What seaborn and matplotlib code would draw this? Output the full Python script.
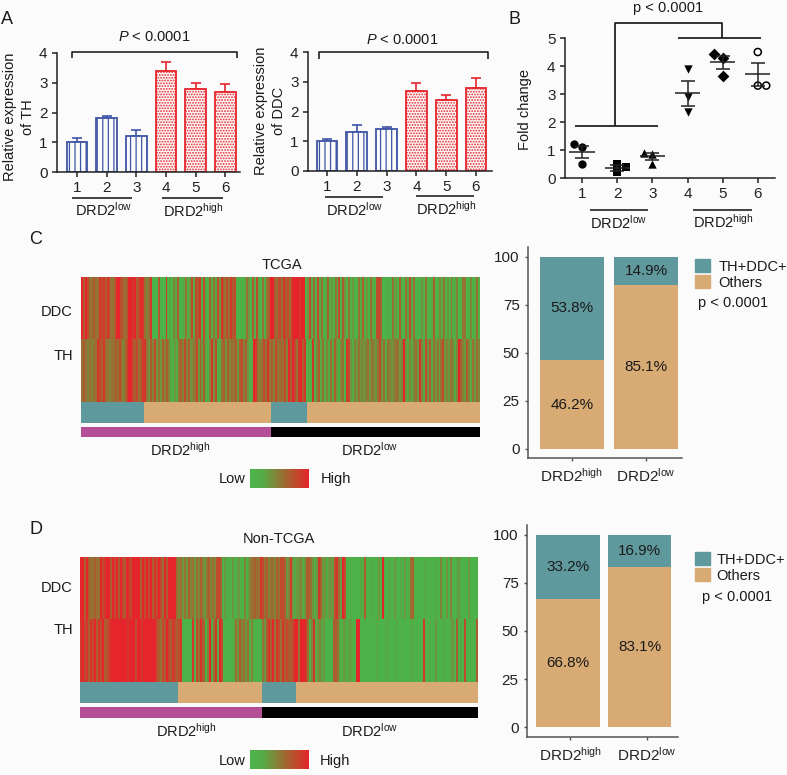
"""
DRD2 / TH / DDC expression figure, panels A to D.
"""

#Libraries
import numpy as np
import matplotlib
matplotlib.use('Agg')
import matplotlib.pyplot as plt
import seaborn as sns

from matplotlib.colors import LinearSegmentedColormap, ListedColormap
from matplotlib.lines import Line2D
from matplotlib.patches import Patch

#Data
samples = ['1', '2', '3', '4', '5', '6']
th_values = [1.0, 1.8, 1.2, 3.4, 2.8, 2.7]
th_errors = [0.13, 0.08, 0.2, 0.3, 0.2, 0.25]
ddc_values = [1.0, 1.3, 1.4, 2.7, 2.4, 2.8]
ddc_errors = [0.07, 0.25, 0.07, 0.25, 0.17, 0.33]

fold_values = [[1.2, 1.1, 0.5], [0.5, 0.38, 0.2], [0.9, 0.85, 0.5],
               [3.9, 2.9, 2.35], [4.43, 4.3, 3.65], [4.5, 3.3, 3.3]]
fold_jitter = [[-0.24, 0, 0], [0, 0.24, 0], [-0.24, 0, 0],
               [0, 0, 0], [-0.24, 0, 0], [0, 0, 0.24]]
fold_means = [0.93, 0.36, 0.77, 3.03, 4.13, 3.7]
fold_sems = [0.2, 0.12, 0.14, 0.45, 0.24, 0.4]
fold_markers = ['o', 's', '^', 'v', 'D', 'o']

groups = ['DRD2$^{high}$', 'DRD2$^{low}$']
tcga_positive = [53.8, 14.9]
tcga_others = [46.2, 85.1]
non_tcga_positive = [33.2, 16.9]
non_tcga_others = [66.8, 83.1]

#Heat map levels, 0 (low) to 9 (high), one character per column read left to right.
tcga_ddc = ('9697' '55655' '878687' '556' '997' '656' '9989' '67' '98' '545' '8' '001' '6' '101' '8' '120' '426'
            '10251372' '768' '172' '0615' '27386' '575867' '0010' '253' '0617' '2051' '56' '99' '657'
            '7586758' '999899' '1372' '51725' '02613051' '7163' '0513015' '26130521' '776' '0012051'
            '3061052' '7251' '0130510' '2601415' '0305124' '00' '55' '0140251')
tcga_th = ('5654' '5455' '8768' '55455' '657' '5457' '997' '6756' '88' '5364' '735' '364' '64' '2132' '564'
           '7463' '4573' '636' '214' '837' '125' '63645' '56367463' '12' '98' '545' '75' '856475'
           '56574' '9' '69' '75' '896' '8121' '81' '4625142' '5263' '1450' '87' '32435343' '4535435'
           '7352543' '45534' '9' '3242453' '8' '42736253' '52573' '435424' '96' '436425354')
non_tcga_ddc = ('99696' '55655' '97899' '697' '9697' '69879' '999' '697' '979687' '97596' '9999'
                '54535364535464356454' '776' '13021302310413' '55655' '87' '56455465'
                '776' '34' '8' '3233423' '665' '323' '8' '6' '332333' '78' '53' '9' '7' '101010121' '6'
                '10120131' '9' '1021031021302' '56' '01010210102104103041023101031001')
non_tcga_th = ('8978687968796789' '999999989997998999999' '7657697687678' '00110' '817586149258197'
               '00100' '2536453' '5041' '000' '536' '8695875867'
               '667' '99' '5' '998' '51482' '3423' '0010' '665' '21321321' '99'
               '0010010121001210012011001210100' '810201310120113061207101016')

#Column counts of the strips under the heat maps.
tcga_status = [63, 127, 35, 173]
tcga_groups = [190, 208]
non_tcga_status = [98, 84, 34, 182]
non_tcga_groups = [182, 216]

#Global variables.
W, H = 787, 775
teal = '#5f999d'
tan = '#d9ab74'
pink = '#b34f97'
blue = '#3f55a5'
red = '#e5262c'
dark = '#222222'
font_size = 10.5

sns.set_style('ticks')
plt.rcParams['font.family'] = ['Liberation Sans', 'DejaVu Sans']
plt.rcParams['mathtext.fontset'] = 'custom'
plt.rcParams['mathtext.rm'] = 'Liberation Sans'
plt.rcParams['mathtext.it'] = 'Liberation Sans:italic'
plt.rcParams['mathtext.default'] = 'regular'
plt.rcParams['hatch.linewidth'] = 0.9
plt.rcParams['axes.linewidth'] = 1.1
plt.rcParams['axes.edgecolor'] = dark
plt.rcParams['xtick.color'] = dark
plt.rcParams['ytick.color'] = dark
plt.rcParams['text.color'] = '#1a1a1a'

fig = plt.figure(figsize=(W / 100, H / 100), dpi=100, facecolor='#fbfbfb')

heat_cmap = LinearSegmentedColormap.from_list(
    'low_high', [(0, '#4cb34a'), (0.2, '#52ad47'), (0.5, '#8c7a35'), (0.75, '#bb4f2e'), (1, '#e6242b')])


#Functions

#Axes from pixel box of the picture.
def Pixel_Axes(left, top, right, bottom):
    ax = fig.add_axes([left / W, 1 - bottom / H, (right - left) / W, (bottom - top) / H])
    ax.patch.set_alpha(0)
    return ax


def Label(x, y, text, size=font_size, ha='center', rotation=0):
    fig.text(x / W, 1 - y / H, text, fontsize=size, ha=ha, va='center', rotation=rotation,
             multialignment='center', linespacing=1.3)


def Rule(xs, ys, color=dark, lw=1.2):
    fig.add_artist(Line2D([x / W for x in xs], [1 - y / H for y in ys], color=color, lw=lw, solid_capstyle='butt'))


"""
Panel A
"""

def Expression_Bars(box, values, errors, first_center, spacing):
    ax = Pixel_Axes(*box)
    sns.barplot(x=samples, y=values, color='white', width=0.7, ax=ax, zorder=2)
    for k, patch in enumerate(ax.patches):
        color = blue if k < 3 else red
        patch.set_facecolor('#fbfbfb')
        patch.set_edgecolor(color)
        patch.set_linewidth(1.3)
        patch.set_hatch('|||' if k < 3 else '......')
    for k in range(6):
        color = blue if k < 3 else red
        ax.errorbar(k, values[k], yerr=[[0], [errors[k]]], color=color, capsize=3.6, lw=1.2, capthick=1.2, zorder=1)
    ax.set_xlim((box[0] - first_center) / spacing, (box[2] - first_center) / spacing)
    ax.set_ylim(0, 4)
    ax.set_yticks([0, 1, 2, 3, 4])
    ax.set_ylabel('')
    ax.tick_params(labelsize=font_size + 0.5, length=3.6, width=1.1, pad=3.2)
    sns.despine(ax=ax)


Expression_Bars((57, 53, 240, 172), th_values, th_errors, 77, 29.7)
Expression_Bars((308, 52, 492, 171), ddc_values, ddc_errors, 327, 29.8)

Label(19, 117, 'Relative expression\nof TH', rotation=90)
Label(270, 111, 'Relative expression\nof DDC', rotation=90)
Label(154, 37, '$\\mathit{P}$ < 0.0001')
Label(402, 40, '$\\mathit{P}$ < 0.0001')
Rule([72, 72, 237, 237], [58, 52, 52, 58])
Rule([319, 319, 488, 488], [59, 52, 52, 59])
Rule([72, 132], [198, 198])
Rule([162, 223], [198, 198])
Rule([325, 383], [197, 197])
Rule([416, 474], [196, 196])
Label(104, 210, groups[1])
Label(193, 211, groups[0])
Label(355, 210, groups[1])
Label(446, 209, groups[0])
Label(7, 20, 'A', size=13)


"""
Panel B
"""

ax_b = Pixel_Axes(565, 38, 775, 178)
for k in range(6):
    xs = [k + j for j in fold_jitter[k]]
    if k == 5:
        sns.scatterplot(x=xs, y=fold_values[k], marker=fold_markers[k], s=26, facecolor='none',
                        edgecolor='black', linewidth=1.1, ax=ax_b, clip_on=False)
    else:
        sns.scatterplot(x=xs, y=fold_values[k], marker=fold_markers[k], s=36, color='black',
                        linewidth=0, ax=ax_b, clip_on=False)
    ax_b.errorbar(k, fold_means[k], yerr=fold_sems[k], color=dark, capsize=4.7, lw=1.1, capthick=1.1)
    ax_b.hlines(fold_means[k], k - 0.36, k + 0.36, color=dark, lw=1.1)
ax_b.set_xlim(-0.486, 5.49)
ax_b.set_ylim(0, 5)
ax_b.set_xticks(range(6))
ax_b.set_xticklabels(samples)
ax_b.set_yticks(range(6))
ax_b.tick_params(labelsize=font_size + 0.5, length=3.6, width=1.1, pad=3.2)
sns.despine(ax=ax_b)

Label(525, 110, 'Fold change', rotation=90)
Label(668, 8, 'p < 0.0001')
Rule([575, 658], [126, 126], lw=1.3)
Rule([615, 615, 722, 722], [126, 23, 23, 38], lw=1.3)
Rule([678, 761], [38, 38], lw=1.3)
Rule([590, 648], [210, 210])
Rule([693, 752], [210, 210])
Label(619, 223, groups[1])
Label(723, 222, groups[0])
Label(514, 19, 'B', size=13)


"""
Panels C and D
"""

def Heat_Row(box, levels):
    ax = Pixel_Axes(*box)
    row = np.array([[int(c) for c in levels]])
    sns.heatmap(row, cmap=heat_cmap, vmin=0, vmax=9, cbar=False, xticklabels=False, yticklabels=False, ax=ax)


def Strip(box, counts, colors):
    ax = Pixel_Axes(*box)
    row = np.repeat(np.arange(len(counts)) % 2, counts)[None, :]
    sns.heatmap(row, cmap=ListedColormap(colors), vmin=0, vmax=1, cbar=False, xticklabels=False, yticklabels=False, ax=ax)


def Low_High(box):
    cax = Pixel_Axes(*box)
    ax = fig.add_axes([0, 0, 0.001, 0.001])
    sns.heatmap(np.array([[0, 9]]), cmap=heat_cmap, vmin=0, vmax=9, ax=ax, cbar_ax=cax,
                cbar_kws={'orientation': 'horizontal', 'ticks': []}, xticklabels=False, yticklabels=False)
    ax.set_visible(False)
    cax.collections[0].set_edgecolor('face')


def Stacked_Bars(box, first_center, spacing, width, positive, others, tick_at):
    ax = Pixel_Axes(*box)
    sns.barplot(x=groups, y=[a + b for a, b in zip(positive, others)], color=teal, saturation=1, width=width, linewidth=0, ax=ax)
    sns.barplot(x=groups, y=others, color=tan, saturation=1, width=width, linewidth=0, ax=ax)
    for k in range(2):
        ax.text(k, others[k] + positive[k] / 2, f'{positive[k]}%', ha='center', va='center', fontsize=font_size + 0.5)
        ax.text(k, others[k] / 2, f'{others[k]}%', ha='center', va='center', fontsize=font_size + 0.5)
    ax.set_xlim((box[0] - first_center) / spacing, (box[2] - first_center) / spacing)
    ax.set_yticks([0, 25, 50, 75, 100])
    ax.set_xticks(tick_at)
    ax.set_xticklabels(groups)
    ax.set_ylabel('')
    ax.tick_params(labelsize=font_size + 0.5, length=2, width=1, color='#555555', pad=4)
    for side in ['left', 'bottom']:
        ax.spines[side].set_color('#555555')
    sns.despine(ax=ax)
    return ax


#Panel C
Heat_Row((81, 277, 480, 339), tcga_ddc)
Heat_Row((81, 339, 480, 402), tcga_th)
Strip((81, 402, 480, 423), tcga_status, [teal, tan])
Strip((81, 427, 480, 437), tcga_groups, [pink, 'black'])
Low_High((250, 469, 309, 488))
Label(282, 265, 'TCGA')
Label(73, 312, 'DDC', ha='right')
Label(73, 356, 'TH', ha='right')
Label(180, 450, groups[0])
Label(370, 450, groups[1])
Label(232, 479, 'Low')
Label(336, 479, 'High')
Label(36, 240, 'C', size=13)

ax_c = Stacked_Bars((528, 247, 682, 458), 572, 74, 0.86, tcga_positive, tcga_others, [0, 1])
ax_c.set_ylim(-4.7, 105)
fig.legend(handles=[Patch(color=teal), Patch(color=tan)], labels=['TH+DDC+', 'Others'], loc='upper left',
           bbox_to_anchor=(695 / W, 1 - 259 / H), frameon=False, fontsize=font_size, borderpad=0,
           borderaxespad=0, handlelength=1, handleheight=1, labelspacing=0.12, handletextpad=0.6)
Label(698, 303, 'p < 0.0001', ha='left')

#Panel D
Heat_Row((80, 557, 478, 619), non_tcga_ddc)
Heat_Row((80, 619, 478, 682), non_tcga_th)
Strip((80, 682, 478, 703), non_tcga_status, [teal, tan])
Strip((80, 707, 478, 718), non_tcga_groups, [pink, 'black'])
Low_High((250, 750, 309, 769))
Label(279, 539, 'Non-TCGA')
Label(73, 588, 'DDC', ha='right')
Label(73, 630, 'TH', ha='right')
Label(186, 731, groups[0])
Label(370, 731, groups[1])
Label(232, 761, 'Low')
Label(335, 761, 'High')
Label(36, 530, 'D', size=13)

ax_d = Stacked_Bars((527, 525, 678, 737), 568, 71.5, 0.895, non_tcga_positive, non_tcga_others, [0.03, 1.1])
ax_d.set_ylim(-5.2, 105.2)
fig.legend(handles=[Patch(color=teal), Patch(color=tan)], labels=['TH+DDC+', 'Others'], loc='upper left',
           bbox_to_anchor=(695 / W, 1 - 552 / H), frameon=False, fontsize=font_size, borderpad=0,
           borderaxespad=0, handlelength=1, handleheight=1, labelspacing=0.12, handletextpad=0.45)
Label(702, 597, 'p < 0.0001', ha='left')

fig.savefig('out.png', dpi=100, facecolor=fig.get_facecolor())
